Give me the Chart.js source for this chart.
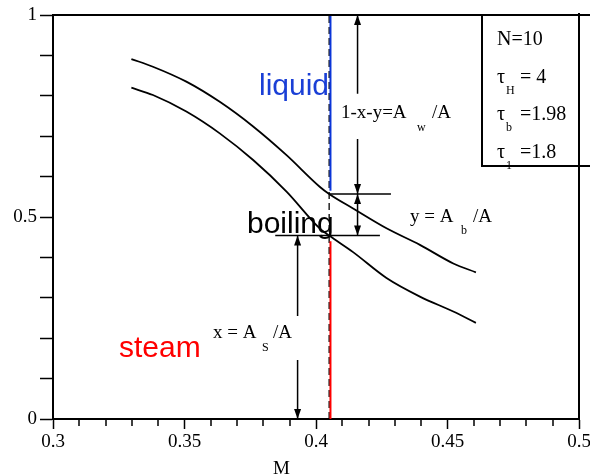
<!DOCTYPE html>
<html>
<head>
<meta charset="utf-8">
<script src="https://cdn.jsdelivr.net/npm/chart.js@4.4.0/dist/chart.umd.min.js"></script>
<style>
    html, body { margin: 0; padding: 0; background: #fff; }
    #phaseChart { display: block; }
</style>
</head>
<body>
<canvas id="phaseChart" width="590" height="476"></canvas>
<script>
// phase-map.js - steam / boiling / liquid fractions against M

// Sampled boundary curves (shared M grid)
const mValues = [0.3298, 0.3380, 0.3507, 0.3634, 0.3761, 0.3888, 0.4014, 0.4050, 0.4141, 0.4268, 0.4395, 0.4522, 0.4608];
const upperBoundary = [0.891, 0.872, 0.835, 0.785, 0.724, 0.653, 0.575, 0.557, 0.521, 0.472, 0.431, 0.385, 0.363];
const lowerBoundary = [0.820, 0.802, 0.761, 0.707, 0.641, 0.563, 0.472, 0.454, 0.413, 0.349, 0.303, 0.266, 0.238];

const xTickLabels = ['0.3', '0.35', '0.4', '0.45', '0.5'];
const yTickLabels = ['0', '0.5', '1'];

const splitM = 0.405;
const splitTop = 0.557;      // upper curve at the cut
const splitBottom = 0.454;   // lower curve at the cut
const liquidFrom = 0.565;
const steamTo = 0.44;
const topLineEnd = 0.4285;
const bottomLineStart = 0.3845;
const bottomLineEnd = 0.4243;

// Dimension arrows
const awArrowM = 0.4158;
const asArrowM = 0.393;
const awGap = [0.805, 0.693];   // break around the 1-x-y label
const asGap = [0.255, 0.146];   // break around the x label

const params = [
    ['N=10', '', ''],
    ['\u03C4', 'H', ' = 4'],
    ['\u03C4', 'b', ' =1.98'],
    ['\u03C4', '1', ' =1.8']
];

const SERIF = "'Liberation Serif', 'Times New Roman', serif";
const SANS = "'Liberation Sans', Arial, sans-serif";

function seg(m1, v1, m2, v2) {
    return [{ x: m1, y: v1 }, { x: m2, y: v2 }];
}

function lineSet(data, color, width, dash) {
    return {
        data: data,
        borderColor: color,
        borderWidth: width,
        borderDash: dash || [],
        pointRadius: 0,
        tension: 0,
        fill: false
    };
}

function curveSet(values) {
    const ds = lineSet(mValues.map((m, i) => ({ x: m, y: values[i] })), '#000', 1.8);
    ds.cubicInterpolationMode = 'monotone';
    return ds;
}

function drawText(ctx, str, x, y, size, family, color) {
    ctx.font = size + 'px ' + family;
    ctx.fillStyle = color;
    ctx.textAlign = 'left';
    ctx.textBaseline = 'alphabetic';
    ctx.fillText(str, x, y);
}

function arrowHead(ctx, px, py, dir) {
    // dir: -1 points up, 1 points down
    const len = 10, half = 3.5;
    ctx.beginPath();
    ctx.moveTo(px, py);
    ctx.lineTo(px - half, py - dir * len);
    ctx.lineTo(px + half, py - dir * len);
    ctx.closePath();
    ctx.fill();
}

const overlayPlugin = {
    id: 'phaseOverlay',
    afterDatasetsDraw(chart) {
        const ctx = chart.ctx;
        const xs = chart.scales.x;
        const ys = chart.scales.y;
        const area = chart.chartArea;

        ctx.save();
        ctx.strokeStyle = '#000';
        ctx.fillStyle = '#000';

        // top and right edges of the frame
        ctx.lineWidth = 2;
        ctx.beginPath();
        ctx.moveTo(area.left, area.top);
        ctx.lineTo(chart.width, area.top);
        ctx.moveTo(area.right, area.top - 2);
        ctx.lineTo(area.right, area.bottom);
        ctx.stroke();

        // minor ticks on M axis
        ctx.lineWidth = 1.5;
        ctx.beginPath();
        for (let i = 1; i < 20; i++) {
            if (i % 5 === 0) continue;
            const px = Math.round(xs.getPixelForValue(0.3 + i * 0.01));
            ctx.moveTo(px, area.bottom);
            ctx.lineTo(px, area.bottom + 7);
        }
        ctx.stroke();

        // arrow heads
        const heads = [
            [awArrowM, 1, -1],
            [awArrowM, splitTop, 1],
            [awArrowM, splitTop, -1],
            [awArrowM, splitBottom, 1],
            [asArrowM, splitBottom, -1],
            [asArrowM, 0, 1]
        ];
        heads.forEach(h => {
            arrowHead(ctx, xs.getPixelForValue(h[0]), ys.getPixelForValue(h[1]), h[2]);
        });

        // region names
        drawText(ctx, 'liquid', 259, 95, 30, SANS, '#1a3fd6');
        drawText(ctx, 'boiling', 247, 233, 30, SANS, '#000');
        drawText(ctx, 'steam', 119, 357, 30, SANS, '#ff0000');

        // fraction labels
        drawText(ctx, '1-x-y=A', 341, 118, 19, SERIF, '#000');
        drawText(ctx, 'w', 417, 131, 12, SERIF, '#000');
        drawText(ctx, '/A', 432, 118, 19, SERIF, '#000');

        drawText(ctx, 'y = A', 410, 222, 19, SERIF, '#000');
        drawText(ctx, 'b', 461, 234, 12, SERIF, '#000');
        drawText(ctx, '/A', 473, 222, 19, SERIF, '#000');

        drawText(ctx, 'x = A', 213, 338, 19, SERIF, '#000');
        drawText(ctx, 'S', 262, 351, 12, SERIF, '#000');
        drawText(ctx, '/A', 273, 338, 19, SERIF, '#000');

        // axis title
        drawText(ctx, 'M', 273, 474, 19, SERIF, '#000');

        // parameter box
        ctx.lineWidth = 2;
        ctx.beginPath();
        ctx.moveTo(482, area.top);
        ctx.lineTo(482, 166);
        ctx.lineTo(chart.width, 166);
        ctx.stroke();

        params.forEach((p, i) => {
            const base = 45 + i * 37.5;
            drawText(ctx, p[0], 497, base, 20, SERIF, '#000');
            if (p[1]) {
                drawText(ctx, p[1], 506, base + 11, 12, SERIF, '#000');
                drawText(ctx, p[2], 515, base, 20, SERIF, '#000');
            }
        });

        ctx.restore();
    }
};

const datasets = [
    curveSet(upperBoundary),
    curveSet(lowerBoundary),
    lineSet(seg(splitM + 0.0005, liquidFrom, splitM + 0.0005, 1), '#0a35d8', 2),
    lineSet(seg(splitM + 0.0005, 0, splitM + 0.0005, steamTo), '#ff0000', 2),
    lineSet(seg(splitM, 0, splitM, 1), '#000', 1.3, [7, 4]),
    lineSet(seg(splitM, splitTop, topLineEnd, splitTop), '#000', 1.5),
    lineSet(seg(bottomLineStart, splitBottom, bottomLineEnd, splitBottom), '#000', 1.5),
    lineSet(seg(awArrowM, 1, awArrowM, awGap[0]), '#000', 1.5),
    lineSet(seg(awArrowM, awGap[1], awArrowM, splitTop), '#000', 1.5),
    lineSet(seg(awArrowM, splitTop, awArrowM, splitBottom), '#000', 1.5),
    lineSet(seg(asArrowM, splitBottom, asArrowM, asGap[0]), '#000', 1.5),
    lineSet(seg(asArrowM, asGap[1], asArrowM, 0), '#000', 1.5)
];

Chart.defaults.color = '#000';

new Chart(document.getElementById('phaseChart'), {
    type: 'line',
    data: { datasets: datasets },
    options: {
        responsive: false,
        animation: false,
        devicePixelRatio: 1,
        layout: { padding: { top: 15, right: 11, left: 0, bottom: 0 } },
        plugins: {
            legend: { display: false },
            tooltip: { enabled: false }
        },
        scales: {
            x: {
                type: 'linear',
                min: 0.3,
                max: 0.5,
                afterFit: s => { s.height = 57; s.paddingLeft = 0; s.paddingRight = 0; },
                border: { display: true, color: '#000', width: 2 },
                grid: { drawOnChartArea: false, drawTicks: true, tickLength: 10, tickColor: '#000', tickWidth: 1.5 },
                ticks: {
                    stepSize: 0.05,
                    autoSkip: false,
                    maxRotation: 0,
                    padding: 2,
                    font: { family: SERIF, size: 19 },
                    callback: (v, i) => xTickLabels[i]
                }
            },
            y: {
                type: 'linear',
                min: 0,
                max: 1,
                afterFit: s => { s.width = 53; s.paddingTop = 0; s.paddingBottom = 0; },
                border: { display: true, color: '#000', width: 2 },
                grid: { drawOnChartArea: false, drawTicks: true, tickLength: 13, tickColor: '#000', tickWidth: 1.5 },
                ticks: {
                    stepSize: 0.1,
                    autoSkip: false,
                    padding: 3,
                    font: { family: SERIF, size: 19 },
                    callback: v => {
                        const k = Math.round(v * 2);
                        return Math.abs(v * 2 - k) < 1e-6 ? yTickLabels[k] : '';
                    }
                }
            }
        }
    },
    plugins: [overlayPlugin]
});
</script>
</body>
</html>
